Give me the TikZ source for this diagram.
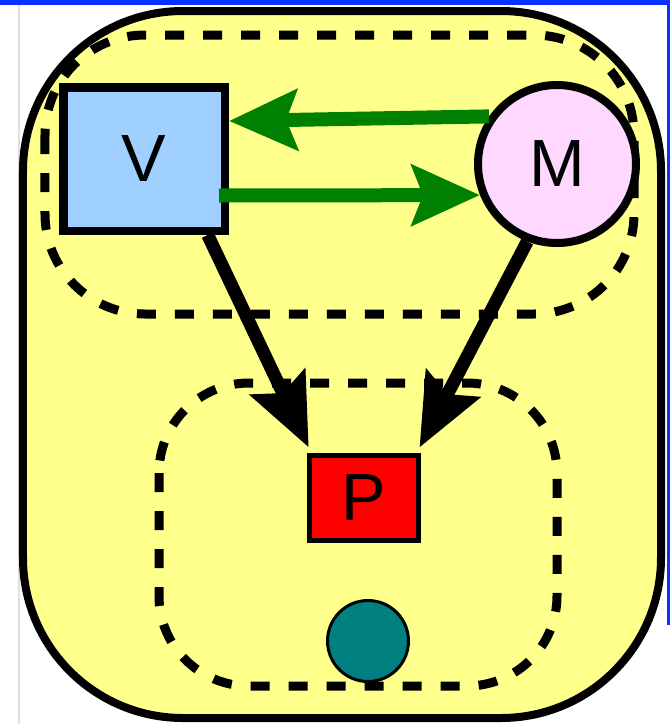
\documentclass[tikz,border=0pt]{standalone}
\usepackage{fontspec}
\setmainfont{Liberation Sans}
\usetikzlibrary{calc,arrows.meta}

\definecolor{boxyellow}{HTML}{FFFF8C}
\definecolor{vblue}{HTML}{A0D0FF}
\definecolor{mpink}{HTML}{FFD8FF}
\definecolor{arrowgreen}{HTML}{008000}
\definecolor{pteal}{HTML}{008080}
\definecolor{edgeblue}{HTML}{0A32FF}

\begin{document}
\begin{tikzpicture}[
    dashbox/.style={draw, line width=0.09cm, dash pattern=on 0.19cm off 0.19cm, rounded corners=#1},
    letter/.style={font=\fontsize{19}{23}\selectfont, inner sep=0pt},
    greenarrow/.style={draw=arrowgreen, line width=0.14cm, -{Stealth[length=0.68cm, width=0.6cm, inset=0.11cm]}},
    blackarrow/.style={draw=black, line width=0.13cm, shorten >=0.06cm, -{Stealth[length=0.72cm, width=0.6cm, inset=0.12cm]}}
]
    % Fix the frame
    \useasboundingbox (0,0) rectangle (6.70,-7.24);
    \fill[white] (0,0) rectangle (6.70,-7.24);
    \fill[edgeblue] (0,0) rectangle (6.70,-0.05);
    \fill[edgeblue] (6.67,0) rectangle (6.70,-6.25);
    \fill[black!12] (0.18,-0.05) rectangle (0.20,-7.24);

    % Define the positions
    \coordinate (vpos) at (1.44,-1.59);
    \coordinate (mpos) at (5.57,-1.64);
    \coordinate (ppos) at (3.64,-4.98);
    \coordinate (tpos) at (3.68,-6.41);

    % Draw the outer box and the two dashed groups
    \draw[line width=0.08cm, fill=boxyellow, rounded corners=1.6cm] (0.23,-0.11) rectangle (6.61,-7.18);
    \draw[dashbox=1.0cm] (0.45,-0.35) rectangle (6.34,-3.14);
    \draw[dashbox=0.9cm] (1.59,-3.83) rectangle (5.57,-6.86);

    % Draw the nodes
    \node[letter, draw, line width=0.085cm, fill=vblue, minimum width=1.615cm, minimum height=1.435cm] (V) at (vpos) {V};
    \node[letter, draw, circle, line width=0.08cm, fill=mpink, minimum size=1.58cm] (M) at (mpos) {M};
    \node[letter, draw, line width=0.05cm, fill=red, minimum width=1.085cm, minimum height=0.855cm] (P) at (ppos) {P};
    \node[draw, circle, line width=0.03cm, fill=pteal, minimum size=0.81cm, inner sep=0pt] (T) at (tpos) {};

    % Draw the arrows between V and M
    \draw[greenarrow] (M.145) -- ($(V.north east)!0.25!(V.south east)$);
    \draw[greenarrow, shorten <=-0.1cm] ($(V.north east)!0.74!(V.south east)$) -- (M.202);

    % Draw the arrows down to P
    \draw[blackarrow] ($(V.south)!0.75!(V.south east)$) -- ([xshift=0.04cm]P.north west);
    \draw[blackarrow] (M.249) -- ([xshift=-0.04cm]P.north east);

\end{tikzpicture}
\end{document}
